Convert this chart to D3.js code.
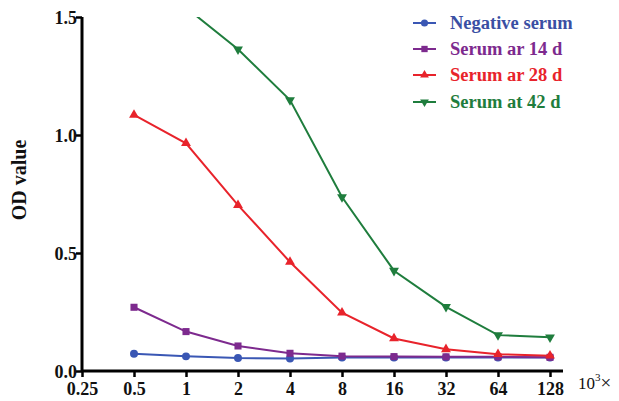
<!DOCTYPE html>
<html><head><meta charset="utf-8">
<script src="https://cdn.jsdelivr.net/npm/d3@7"></script>
<style>body{margin:0;background:#fff}svg{display:block}</style>
</head><body><svg id="c" width="619" height="401"></svg>
<script>
const dilutions = [0.5, 1, 2, 4, 8, 16, 32, 64, 128];
const xTicks = [0.25, 0.5, 1, 2, 4, 8, 16, 32, 64, 128];
const yTicks = [0.0, 0.5, 1.0, 1.5];
const seriesNames = ["Negative serum", "Serum ar 14 d", "Serum ar 28 d", "Serum at 42 d"];
const negative = [0.073, 0.062, 0.055, 0.053, 0.057, 0.057, 0.057, 0.057, 0.057];
const day14 = [0.27, 0.167, 0.106, 0.075, 0.063, 0.061, 0.060, 0.060, 0.058];
const day28 = [1.085, 0.965, 0.703, 0.462, 0.247, 0.138, 0.092, 0.071, 0.065];
const day42 = [1.54, 1.54, 1.363, 1.148, 0.737, 0.425, 0.272, 0.152, 0.143];
const colors = ["#3a57b4", "#7d2a8e", "#e8232b", "#1f7d3d"];
const textColors = ["#3a4fa3", "#7d2a8e", "#e8232b", "#1f7d3d"];
const symbols = [d3.symbolCircle, d3.symbolSquare, d3.symbolTriangle, d3.symbolTriangle];
const symSizes = [50, 50, 42, 42];
const rotations = [0, 0, 0, 180];
const seriesData = [negative, day14, day28, day42];
const startIdx = [0, 0, 0, 1];

const svg = d3.select("#c");
const pLeft = 82, pRight = 563, pTop = 17, pBottom = 371;
const x = d3.scaleLog().base(2).domain([0.25, 0.25 * Math.pow(2, (pRight - pLeft) / 52)]).range([pLeft, pRight]);
const y = d3.scaleLinear().domain([0, 1.5]).range([pBottom, pTop]);
const font = "'Liberation Serif','Times New Roman',serif";

svg.append("defs").append("clipPath").attr("id", "clip")
  .append("rect").attr("x", pLeft).attr("y", pTop).attr("width", pRight - pLeft + 10).attr("height", pBottom - pTop + 5);

const series = seriesNames.map((n, i) => ({
  name: n, color: colors[i],
  pts: dilutions.map((d, j) => ({x: d, y: seriesData[i][j]})).slice(startIdx[i])
}));

const line = d3.line().x(d => x(d.x)).y(d => y(d.y));
const plot = svg.append("g").attr("clip-path", "url(#clip)");
series.forEach((s, i) => {
  plot.append("path").attr("d", line(s.pts)).attr("fill", "none")
    .attr("stroke", s.color).attr("stroke-width", 2);
  plot.selectAll(null).data(s.pts.filter(p => p.y <= 1.5)).enter().append("path")
    .attr("d", d3.symbol().type(symbols[i]).size(symSizes[i]))
    .attr("transform", p => `translate(${x(p.x)},${y(p.y)}) rotate(${rotations[i]})`)
    .attr("fill", s.color);
});

const xAxis = svg.append("g").attr("transform", `translate(0,${pBottom})`)
  .call(d3.axisBottom(x).tickValues(xTicks).tickFormat(d => String(d)).tickSize(6).tickSizeOuter(0));
const yAxis = svg.append("g").attr("transform", `translate(${pLeft},0)`)
  .call(d3.axisLeft(y).tickValues(yTicks).tickFormat(d3.format(".1f")).tickSize(6).tickSizeOuter(0));
[xAxis, yAxis].forEach(a => {
  a.select(".domain").attr("stroke", "#000").attr("stroke-width", 3);
  a.selectAll(".tick line").attr("stroke", "#000").attr("stroke-width", 2.5);
  a.selectAll("text").attr("font-family", font).attr("font-weight", "bold")
    .attr("font-size", 18).attr("fill", "#111");
});
xAxis.selectAll("text").attr("dy", 0).attr("y", 24);
yAxis.selectAll("text").attr("x", -5).attr("dy", "0.36em");
xAxis.select(".domain").attr("d", `M${pLeft},0H${pRight}`);
yAxis.select(".domain").attr("d", `M0,${pTop}V${pBottom}`);

svg.append("text").attr("transform", "translate(26,180) rotate(-90)")
  .attr("text-anchor", "middle").attr("font-family", font).attr("font-weight", "bold")
  .attr("font-size", 20).attr("fill", "#111").text("OD value");

const unit = svg.append("text").attr("x", 578).attr("y", 389)
  .attr("font-family", font).attr("font-size", 17).attr("fill", "#111");
unit.append("tspan").text("10");
unit.append("tspan").attr("dy", -8).attr("font-size", 11).text("3");
unit.append("tspan").attr("dy", 8).attr("font-size", 19).text("×");

const legendY = [23, 49, 75, 102];
series.forEach((s, i) => {
  const g = svg.append("g").attr("transform", `translate(413,${legendY[i]})`);
  g.append("line").attr("x1", 0).attr("x2", 23).attr("stroke", s.color).attr("stroke-width", 2);
  g.append("path").attr("d", d3.symbol().type(symbols[i]).size(symSizes[i] * 0.8))
    .attr("transform", `translate(11.5,0) rotate(${rotations[i]})`).attr("fill", s.color);
  g.append("text").attr("x", 37).attr("y", 6).attr("font-family", font).attr("font-weight", "bold")
    .attr("font-size", 18.5).attr("fill", textColors[i]).text(s.name);
});
</script></body></html>
